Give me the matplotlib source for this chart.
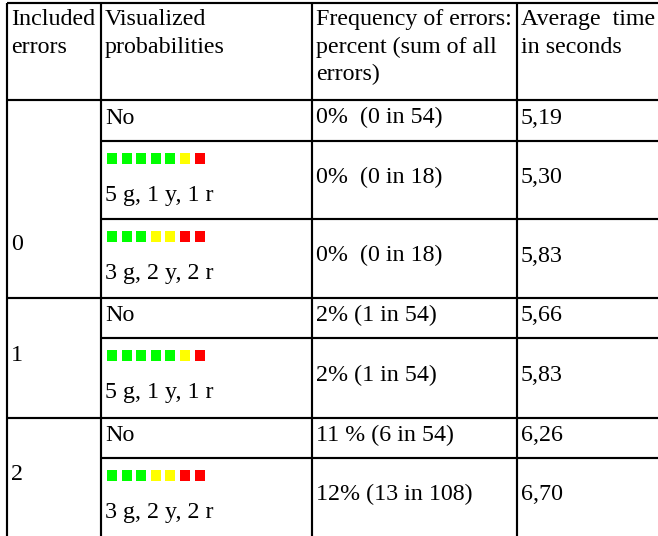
import matplotlib
matplotlib.use("Agg")
import matplotlib.pyplot as plt
from matplotlib.patches import Rectangle

# ---------------- data ----------------
header_col1 = ["Included", "errors"]
header_col2 = ["Visualized", "probabilities"]
header_col3 = ["Frequency of errors:", "percent (sum of all", "errors)"]
header_col4 = ["Average  time", "in seconds"]

included_errors = ["0", "1", "2"]
group_sizes = [3, 2, 2]
visualized = ["No", "5 g, 1 y, 1 r", "3 g, 2 y, 2 r", "No",
              "5 g, 1 y, 1 r", "No", "3 g, 2 y, 2 r"]
green_counts = [0, 5, 3, 0, 5, 0, 3]
yellow_counts = [0, 1, 2, 0, 1, 0, 2]
red_counts = [0, 1, 2, 0, 1, 0, 2]
frequency = ["0%  (0 in 54)", "0%  (0 in 18)", "0%  (0 in 18)",
             "2% (1 in 54)", "2% (1 in 54)", "11 % (6 in 54)",
             "12% (13 in 108)"]
avg_time = ["5,19", "5,30", "5,83", "5,66", "5,83", "6,26", "6,70"]

# ---------------- layout (pixels) ----------------
W, H = 658, 536
col_edges = [7, 101, 312, 517, 662]
table_top = 2.5
header_bottom = 100
row_heights = [41, 78, 79, 40, 80, 40, 78]
group_label_base = [150, 63, 62]   # baseline offset from group top
pad_x = 4
line_pitch = 27.6
first_base = 22.5
fs = 17.3
font = "Liberation Serif"
lw = 1.55

colors = {"g": "#00FF00", "y": "#FFFF00", "r": "#FF0000"}

fig = plt.figure(figsize=(W / 100, H / 100), dpi=100)
ax = fig.add_axes([0, 0, 1, 1])
ax.set_xlim(0, W)
ax.set_ylim(H, 0)
ax.axis("off")


def put(x, y, s):
    ax.text(x, y, s, fontsize=fs, family=font, ha="left", va="baseline",
            color="black")


# header
for ci, lines in enumerate([header_col1, header_col2, header_col3, header_col4]):
    for li, s in enumerate(lines):
        put(col_edges[ci] + pad_x, table_top + first_base + li * line_pitch, s)

# row boundaries
row_tops = [header_bottom]
for h in row_heights:
    row_tops.append(row_tops[-1] + h)

# body rows
for i in range(len(visualized)):
    top, bot = row_tops[i], row_tops[i + 1]
    mid = (top + bot) / 2
    base = mid + 3
    n_sq = green_counts[i] + yellow_counts[i] + red_counts[i]
    if n_sq == 0:
        put(col_edges[1] + pad_x, base, visualized[i])
    else:
        seq = ["g"] * green_counts[i] + ["y"] * yellow_counts[i] + ["r"] * red_counts[i]
        for k, c in enumerate(seq):
            ax.add_patch(Rectangle((col_edges[1] + 6 + k * 14.6, top + 12), 10, 10.5,
                                   facecolor=colors[c], edgecolor="none"))
        put(col_edges[1] + pad_x, top + 60, visualized[i])
    put(col_edges[2] + pad_x, base, frequency[i])
    put(col_edges[3] + pad_x, base, avg_time[i])

# group labels and group lines
start = 0
group_bounds = []
for gi, (g, n) in enumerate(zip(included_errors, group_sizes)):
    gt, gb = row_tops[start], row_tops[start + n]
    put(col_edges[0] + pad_x, gt + group_label_base[gi], g)
    group_bounds.append(gb)
    start += n

# lines
ax.hlines([table_top, header_bottom], col_edges[0], col_edges[-1], color="black", lw=lw)
for i in range(1, len(row_tops) - 1):
    y = row_tops[i]
    if y in group_bounds:
        ax.hlines(y, col_edges[0], col_edges[-1], color="black", lw=lw)
    else:
        ax.hlines(y, col_edges[1], col_edges[-1], color="black", lw=lw)
ax.vlines(col_edges[:-1], table_top, H + 5, color="black", lw=lw)

fig.savefig("out.png", dpi=100)
